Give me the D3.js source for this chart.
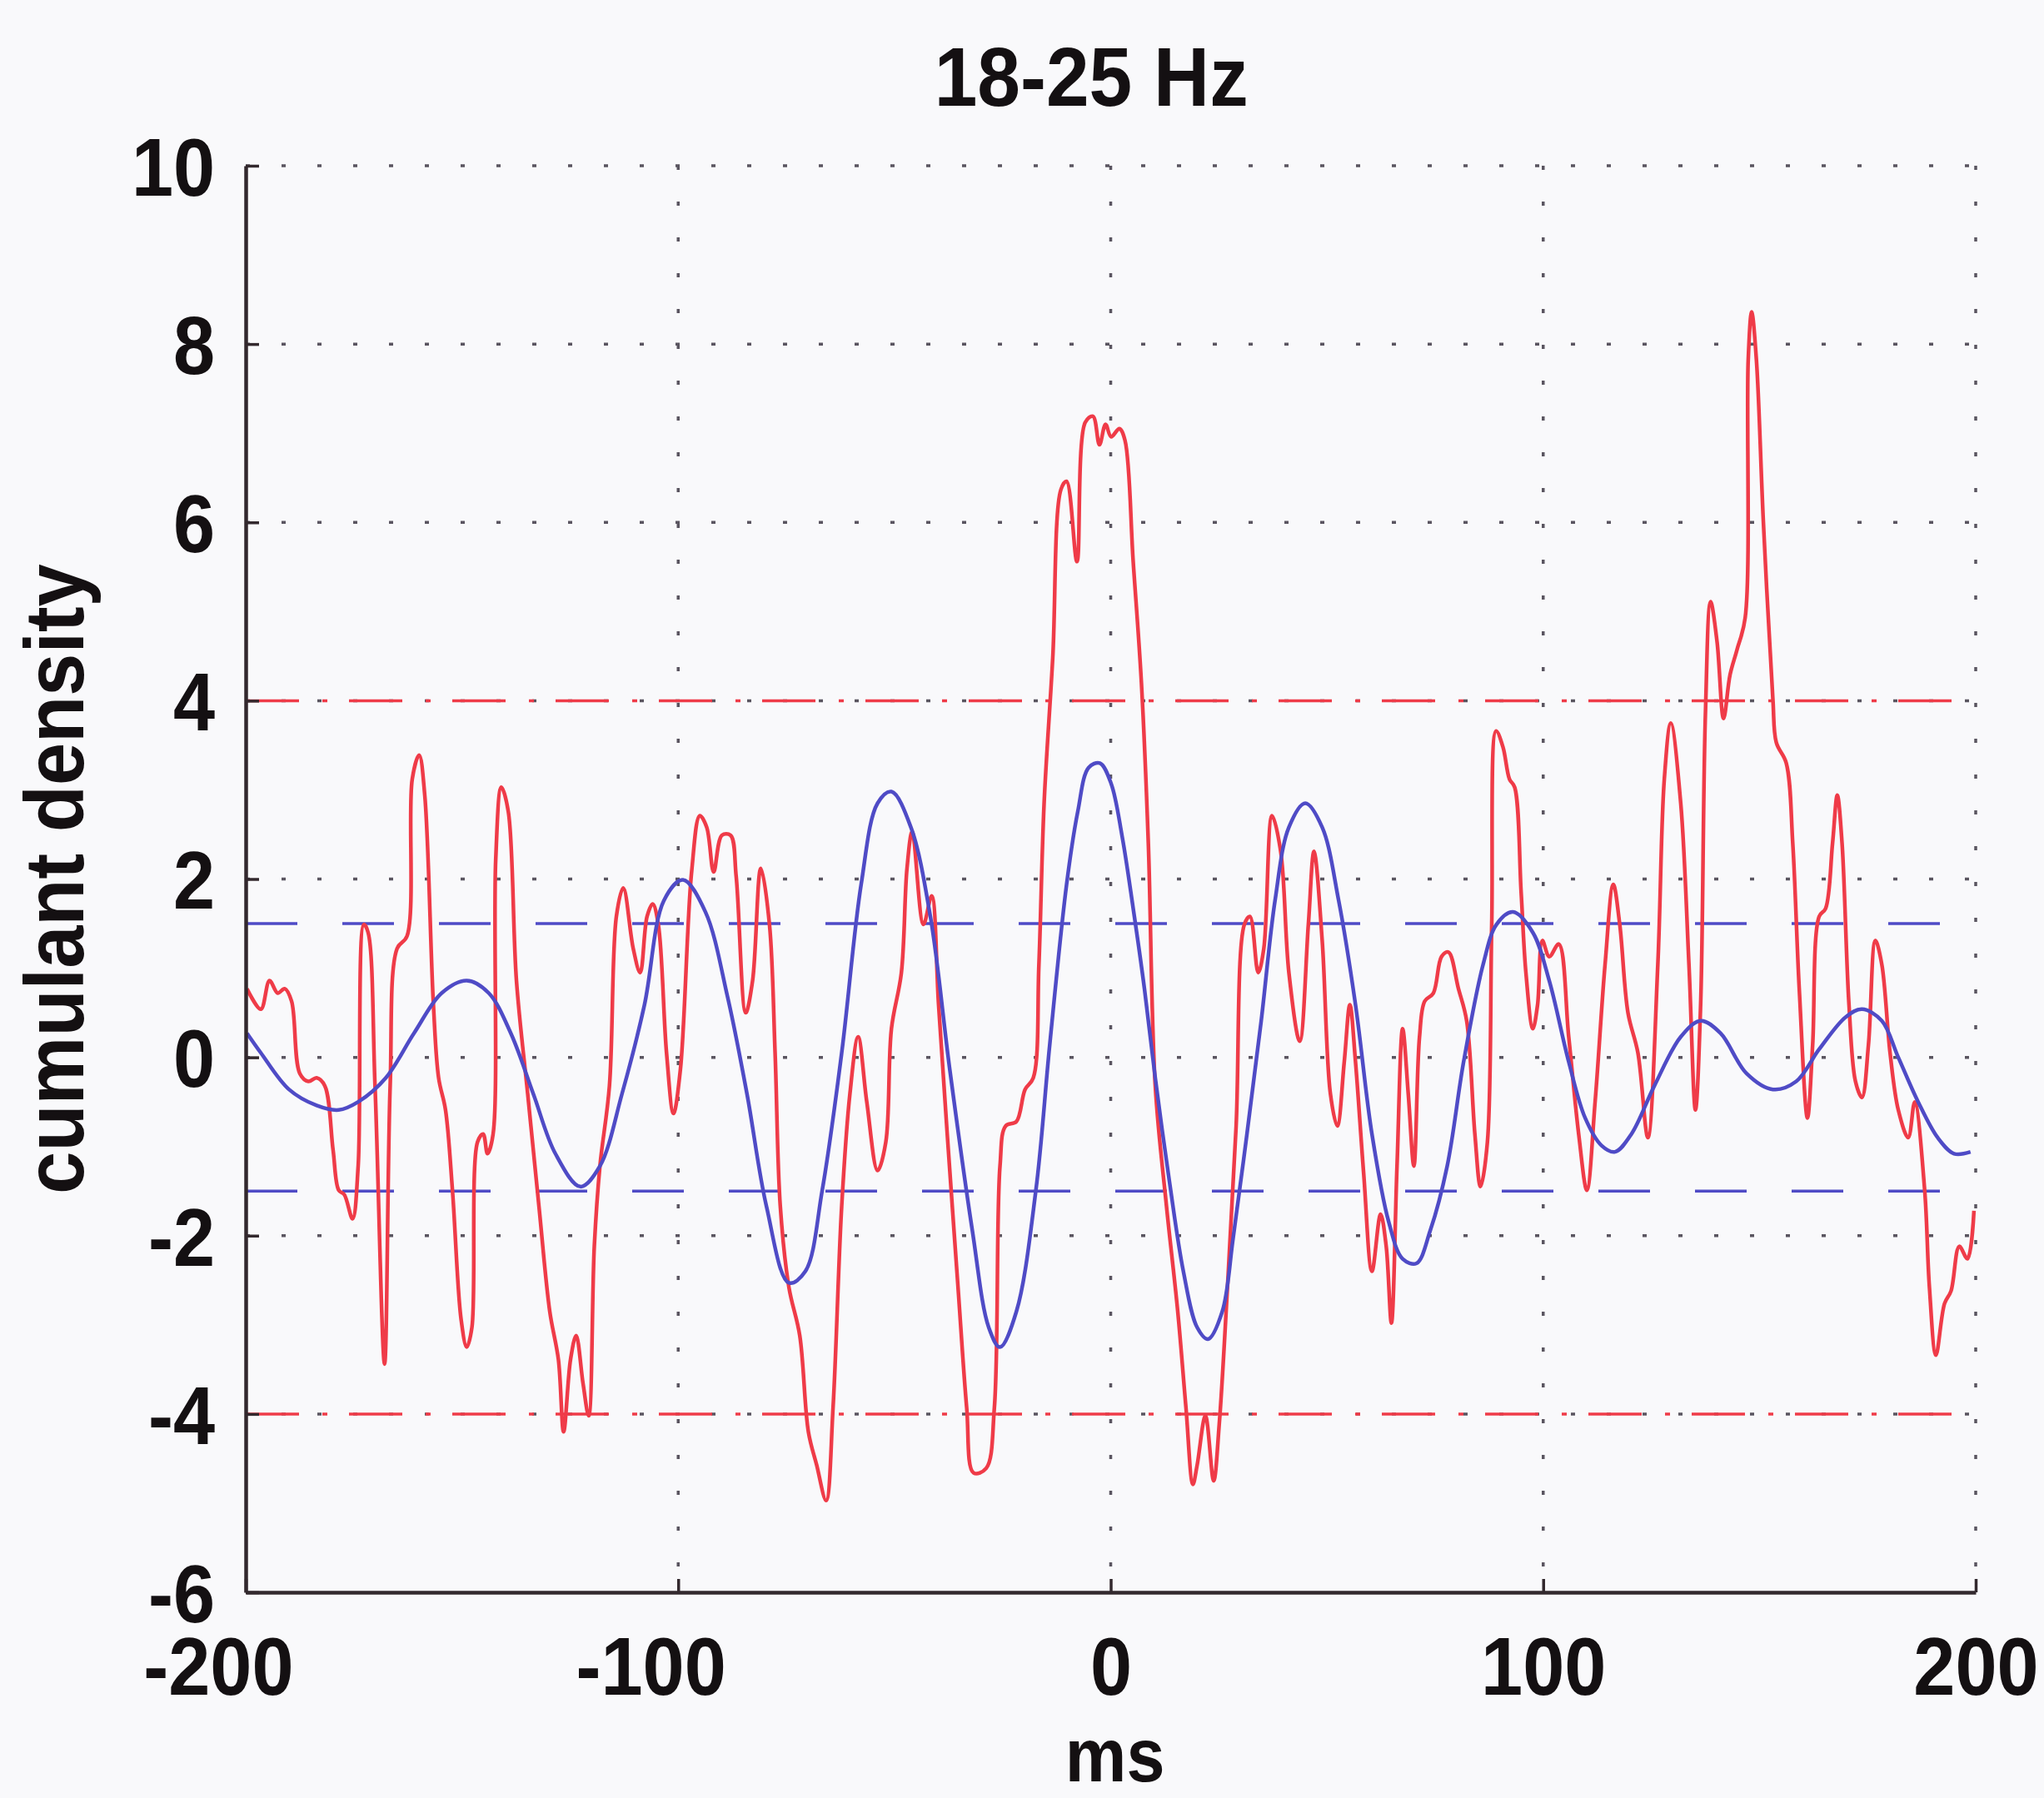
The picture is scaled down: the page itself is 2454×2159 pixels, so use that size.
<!DOCTYPE html>
<html>
<head>
<meta charset="utf-8">
<script src="https://cdn.jsdelivr.net/npm/d3@7"></script>
<style>
  html, body { margin: 0; padding: 0; background: #f9f9fb; }
  svg { display: block; font-family: "Liberation Sans", Arial, sans-serif; }
</style>
</head>
<body>
<div id="vis"></div>
<script>
var titleText = '18-25 Hz';
var xLabel = 'ms';
var yLabel = 'cumulant density';

var xTicks = [-200, -100, 0, 100, 200];
var yTicks = [-6, -4, -2, 0, 2, 4, 6, 8, 10];

// significance levels
var redLimits = [4, -4];
var blueLimits = [1.5, -1.5];

var redMs = [-199.7, -196.5, -194.5, -192.6, -191, -189.4, -187.5, -185.5, -183.6, -181.7,
  -179.8, -178.5, -177.2, -175.3, -174, -172.7, -171.7, -170.1, -167.9, -166.6,
  -165, -162.7, -161.5, -159.9, -158.6, -156.6, -155.4, -153.8, -152.2, -150.2,
  -148.9, -147.7, -146.4, -145.1, -144.1, -142.8, -142.2, -140.9, -139.3, -137.4,
  -134.8, -132.2, -129.7, -127.7, -126.5, -124.9, -123.6, -122, -120.7, -119.4,
  -118.1, -115.9, -114.3, -112.7, -110.4, -108.8, -107.2, -105.9, -104.6, -102.7,
  -101.1, -99.5, -96.9, -95, -93.4, -91.8, -89.9, -87.9, -86.6, -84.4,
  -82.8, -80.9, -78.9, -77.6, -76.4, -74.4, -71.9, -69.9, -68, -65.8,
  -64.2, -62.2, -60.3, -58.4, -56.4, -53.9, -52, -50.7, -48.4, -47.1,
  -45.9, -43.3, -41.4, -39.8, -37.8, -35.3, -33.3, -31.7, -28.8, -26.9,
  -25.6, -24.3, -21.8, -19.8, -17.9, -16.6, -15.4, -13.4, -11.5, -10.2,
  -7.8, -5.9, -4.1, -2.6, -1.2, 0.1, 2, 3.3, 5.2, 7.1,
  8.7, 10.3, 12.9, 15.5, 17.4, 19, 20, 21.9, 23.8, 25.1,
  27, 29, 30.9, 32.2, 34.1, 35.4, 37.3, 39.3, 41.2, 43.7,
  45.7, 47, 48.9, 50.8, 52.4, 54, 55.3, 56.6, 58.5, 60.4,
  62.4, 63.7, 64.9, 66.2, 67.5, 68.8, 70.1, 71.4, 72.6, 74.6,
  76.5, 78.1, 80.4, 82.3, 84.2, 85.5, 87.1, 88.1, 89.1, 90.7,
  92.2, 93.4, 94.9, 96, 97.6, 98.7, 99.8, 101.4, 103.6, 105.9,
  108.2, 110.1, 112, 114.3, 116.2, 117.7, 119.6, 121.9, 124.2, 126.5,
  128, 129.5, 131.8, 133.7, 135.2, 136.4, 137.5, 138.7, 140.2, 141.7,
  143.2, 144.8, 146.7, 147.4, 148.2, 149.3, 150.9, 153.1, 153.9, 156.2,
  157.7, 159.2, 161.1, 162.3, 163.8, 165.3, 166.9, 168, 169.1, 170.7,
  172.2, 173.7, 175.2, 176.8, 178.3, 180.2, 182.1, 184.4, 185.9, 188.2,
  189.3, 190.8, 192.8, 194.3, 196.2, 198.1, 199.6];

var redVal = [0.77, 0.54, 0.86, 0.72, 0.77, 0.63, -0.18, -0.27, -0.23, -0.32,
  -1.04, -1.49, -1.54, -1.81, -1.22, 1.49, 1.40, -0.32, -3.44, -0.32,
  1.22, 1.36, 3.12, 3.39, 2.94, 0.59, -0.23, -0.59, -1.49, -2.94,
  -3.25, -3.03, -0.95, -0.86, -1.08, -0.86, 2.21, 3.03, 2.76, 0.86,
  -0.41, -1.67, -2.85, -3.39, -4.2, -3.39, -3.12, -3.66, -4.02, -2.12,
  -1.22, -0.32, 1.58, 1.90, 1.22, 0.95, 1.58, 1.72, 1.49, 0.05,
  -0.63, -0.14, 2.08, 2.71, 2.58, 2.08, 2.49, 2.49, 2.03, 0.5,
  0.86, 2.12, 1.49, 0.05, -1.67, -2.58, -3.12, -4.2, -4.57, -4.97,
  -3.93, -1.67, -0.41, 0.23, -0.5, -1.27, -0.95, 0.32, 0.95, 2.12,
  2.53, 1.49, 1.81, 0.59, -0.86, -2.58, -3.93, -4.66, -4.61, -3.93,
  -1.22, -0.77, -0.72, -0.36, -0.23, 1.04, 2.85, 4.48, 6.37, 6.46,
  5.56, 7.12, 7.19, 6.87, 7.1, 6.96, 7.05, 6.92, 5.56, 4.2,
  2.4, -0.32, -1.67, -2.85, -3.93, -4.79, -4.57, -4.02, -4.75, -4.11,
  -2.58, -0.77, 1.49, 1.58, 0.95, 1.22, 2.71, 2.31, 0.95, 0.18,
  1.49, 2.31, 1.31, -0.41, -0.77, -0.05, 0.59, -0.05, -1.31, -2.4,
  -1.76, -2.12, -2.98, -1.22, 0.32, -0.41, -1.22, 0.23, 0.63, 0.72,
  1.13, 1.18, 0.77, 0.41, -0.86, -1.45, -0.95, 1.49, 3.66, 3.48,
  3.12, 3.03, 1.85, 0.95, 0.32, 0.59, 1.31, 1.13, 1.27, 0.23,
  -0.86, -1.49, -0.5, 1.04, 1.94, 1.49, 0.5, 0.05, -0.9, 1.04,
  3.12, 3.75, 2.85, 1.04, -0.59, 0.59, 3.84, 5.11, 4.66, 3.8,
  4.29, 4.57, 4.93, 7.82, 8.36, 7.82, 6.01, 4.02, 3.53, 3.3,
  2.4, 0.77, -0.68, 0.14, 1.58, 1.67, 2.4, 2.94, 2.4, 0.59,
  -0.27, -0.45, 0.14, 1.31, 1.04, 0.05, -0.59, -0.9, -0.5, -1.49,
  -2.58, -3.34, -2.76, -2.62, -2.12, -2.26, -1.72];

var blueMs = [-199.7, -196.5, -190, -183.6, -178.5, -174, -167.6, -161.1, -154.7, -148.9,
  -143.8, -138.7, -133.5, -128.4, -122.6, -118.1, -113, -107.8, -103.3, -98.9,
  -93.7, -88.6, -84.1, -79.6, -74.4, -70.6, -66.7, -62.2, -57.7, -53.9,
  -50.7, -46.2, -41.7, -37.2, -32, -28.2, -25.6, -21.8, -17.3, -14.1,
  -10.2, -7.6, -5.1, -2.5, 0.1, 2.6, 5.2, 7.8, 10.3, 13.6,
  16.8, 20, 22.5, 25.8, 28.3, 31.5, 34.8, 38, 41.2, 45,
  48.9, 52.7, 56.6, 60.4, 64.3, 67.5, 70.7, 73.9, 77.8, 81.6,
  86.1, 89.2, 93, 97.6, 101.4, 105.9, 109.7, 113.5, 116.6, 120.4,
  125.7, 131.8, 136.4, 141, 147, 153.1, 158.5, 163.8, 169.9, 173.7,
  178.3, 182.1, 186.7, 191.2, 195, 198.8];

var blueVal = [0.27, 0.05, -0.36, -0.54, -0.59, -0.5, -0.23, 0.27, 0.72, 0.86,
  0.72, 0.27, -0.41, -1.08, -1.45, -1.22, -0.41, 0.59, 1.76, 1.99,
  1.63, 0.68, -0.41, -1.67, -2.53, -2.4, -1.49, 0.05, 1.94, 2.85,
  2.98, 2.58, 1.58, -0.14, -1.94, -3.03, -3.25, -2.85, -1.49, 0.14,
  1.94, 2.76, 3.25, 3.3, 3.07, 2.49, 1.67, 0.77, -0.23, -1.4,
  -2.4, -3.03, -3.16, -2.85, -2.03, -0.86, 0.41, 1.76, 2.58, 2.85,
  2.58, 1.76, 0.59, -0.86, -1.85, -2.26, -2.31, -1.94, -1.22, -0.05,
  1.04, 1.49, 1.63, 1.4, 0.86, -0.05, -0.68, -0.99, -1.06, -0.86,
  -0.32, 0.23, 0.41, 0.27, -0.18, -0.36, -0.27, 0.09, 0.45, 0.54,
  0.41, 0, -0.5, -0.9, -1.08, -1.06];

function drawChart() {
  var width = 2454;
  var height = 2159;
  var margin = { top: 199, right: 82, bottom: 247, left: 295 };
  var plotW = width - margin.left - margin.right;
  var plotH = height - margin.top - margin.bottom;

  var redColor = '#ef3b48';
  var blueColor = '#4f4bc6';
  var axisColor = '#33292e';
  var gridColor = '#5a5560';
  var squeeze = 'scale(0.92,1)';

  var svg = d3.select('#vis')
    .append('svg')
    .attr('width', width)
    .attr('height', height);

  svg.append('rect')
    .attr('width', width)
    .attr('height', height)
    .attr('fill', '#f9f9fb');

  var g = svg.append('g')
    .attr('transform', 'translate(' + margin.left + ',' + margin.top + ')');

  var x = d3.scaleLinear().domain([-200, 200]).range([0, plotW]);
  var y = d3.scaleLinear().domain([-6, 10]).range([plotH, 0]);

  // dotted grid, including top and right edges
  g.append('g').selectAll('line')
    .data(xTicks.slice(1))
    .enter().append('line')
    .attr('x1', function (d) { return x(d); })
    .attr('x2', function (d) { return x(d); })
    .attr('y1', 0)
    .attr('y2', plotH)
    .attr('stroke', gridColor)
    .attr('stroke-width', 3.5)
    .attr('stroke-dasharray', '5,38');

  g.append('g').selectAll('line')
    .data(yTicks.slice(1))
    .enter().append('line')
    .attr('x1', 0)
    .attr('x2', plotW)
    .attr('y1', function (d) { return y(d); })
    .attr('y2', function (d) { return y(d); })
    .attr('stroke', gridColor)
    .attr('stroke-width', 3.5)
    .attr('stroke-dasharray', '5,38');

  // confidence limits
  g.append('g').selectAll('line')
    .data(blueLimits)
    .enter().append('line')
    .attr('x1', 0)
    .attr('x2', x(199))
    .attr('y1', function (d) { return y(d); })
    .attr('y2', function (d) { return y(d); })
    .attr('stroke', blueColor)
    .attr('stroke-width', 3.5)
    .attr('stroke-dasharray', '62,54');

  g.append('g').selectAll('line')
    .data(redLimits)
    .enter().append('line')
    .attr('x1', 0)
    .attr('x2', x(199))
    .attr('y1', function (d) { return y(d); })
    .attr('y2', function (d) { return y(d); })
    .attr('stroke', redColor)
    .attr('stroke-width', 3.5)
    .attr('stroke-dasharray', '64,28,6,26');

  var line = d3.line()
    .x(function (d) { return x(d[0]); })
    .y(function (d) { return y(d[1]); })
    .curve(d3.curveCatmullRom.alpha(0.5));

  var redData = redMs.map(function (m, i) { return [m, redVal[i]]; });
  var blueData = blueMs.map(function (m, i) { return [m, blueVal[i]]; });

  g.append('path')
    .datum(redData)
    .attr('d', line)
    .attr('fill', 'none')
    .attr('stroke', redColor)
    .attr('stroke-width', 4.5)
    .attr('stroke-linejoin', 'round');

  g.append('path')
    .datum(blueData)
    .attr('d', line)
    .attr('fill', 'none')
    .attr('stroke', blueColor)
    .attr('stroke-width', 4.5)
    .attr('stroke-linejoin', 'round');

  // axes, hyphen minus like the original
  var fmt = function (d) { return String(d); };

  var xAxis = d3.axisBottom(x)
    .tickValues(xTicks)
    .tickSizeInner(-16)
    .tickSizeOuter(0)
    .tickPadding(53)
    .tickFormat(fmt);

  var yAxis = d3.axisLeft(y)
    .tickValues(yTicks)
    .tickSizeInner(-16)
    .tickSizeOuter(0)
    .tickFormat(fmt);

  var gx = g.append('g')
    .attr('transform', 'translate(0,' + plotH + ')')
    .call(xAxis);

  var gy = g.append('g')
    .call(yAxis);

  [gx, gy].forEach(function (ax) {
    ax.select('.domain').attr('stroke', axisColor).attr('stroke-width', 4.5);
    ax.selectAll('.tick line').attr('stroke', axisColor).attr('stroke-width', 3.5);
    ax.selectAll('.tick text')
      .attr('fill', '#141012')
      .attr('transform', squeeze)
      .style('font-size', '98px')
      .style('font-weight', 'bold')
      .style('font-family', '"Liberation Sans", Arial, sans-serif');
  });

  // negative labels sit a little left of centre, as in the original
  gx.selectAll('.tick text')
    .attr('dx', function (d) { return d < 0 ? -36 : 0; });

  gy.selectAll('.tick text')
    .attr('x', -40)
    .attr('dy', '0.36em');

  svg.append('text')
    .attr('transform', 'translate(' + (margin.left + x(-4.5)) + ',127) ' + squeeze)
    .attr('text-anchor', 'middle')
    .style('font-size', '101px')
    .style('font-weight', 'bold')
    .attr('fill', '#141012')
    .text(titleText);

  svg.append('text')
    .attr('transform', 'translate(' + (margin.left + x(1)) + ',2139) ' + squeeze)
    .attr('text-anchor', 'middle')
    .style('font-size', '90px')
    .style('font-weight', 'bold')
    .attr('fill', '#141012')
    .text(xLabel);

  svg.append('text')
    .attr('transform', 'translate(100,' + (margin.top + y(2)) + ') rotate(-90) ' + squeeze)
    .attr('text-anchor', 'middle')
    .style('font-size', '100px')
    .style('font-weight', 'bold')
    .attr('fill', '#141012')
    .text(yLabel);
}

drawChart();
</script>
</body>
</html>
